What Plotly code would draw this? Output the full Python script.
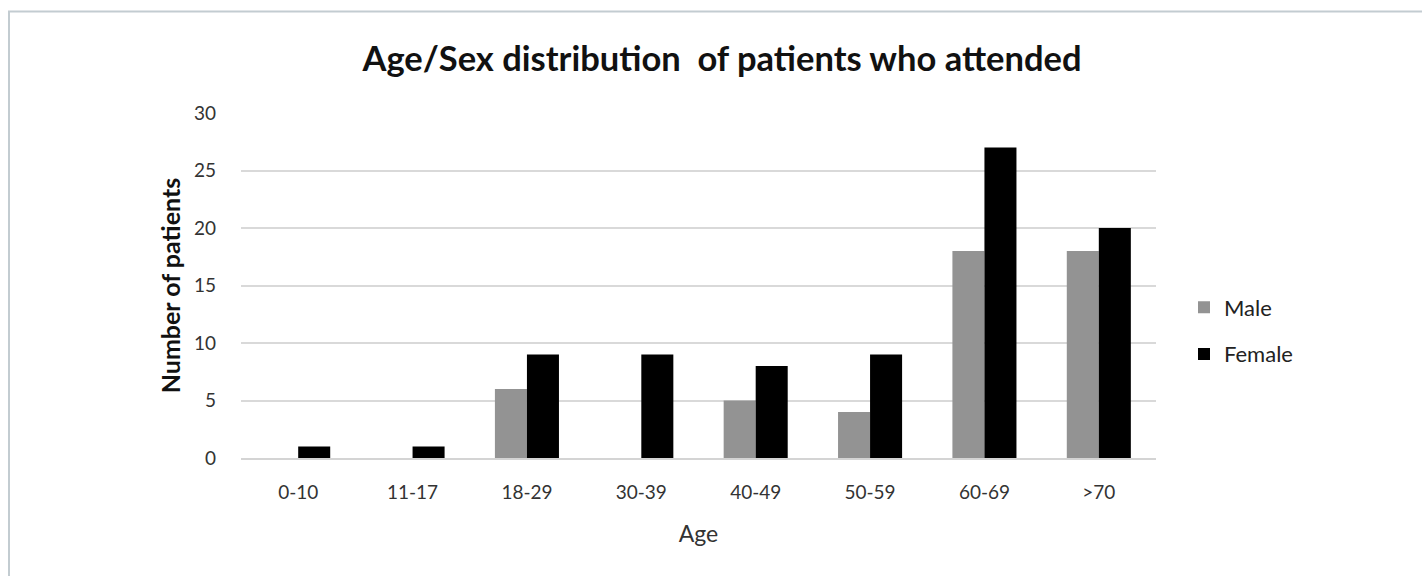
import plotly.graph_objects as go

age_groups = ["0-10", "11-17", "18-29", "30-39", "40-49", "50-59", "60-69", ">70"]
male = [0, 0, 6, 0, 5, 4, 18, 18]
female = [1, 1, 9, 9, 8, 9, 27, 20]
y_ticks = [0, 5, 10, 15, 20, 25, 30]

FONT = "Lato"
W, H = 1422, 576
ML, MR, MT, MB = 241, 266, 113, 118
PW, PH = W - ML - MR, H - MT - MB

fig = go.Figure()
fig.add_trace(go.Bar(name="Male", x=age_groups, y=male, marker=dict(color="#939393", line=dict(width=0)),
                     legendgroup="m"))
fig.add_trace(go.Bar(name="Female", x=age_groups, y=female, marker=dict(color="#000000", line=dict(width=0)),
                     legendgroup="f"))

def px_x(x):
    return (x - ML) / PW

def px_y(y):
    return (H - MB - y) / PH

fig.update_layout(
    width=W, height=H,
    margin=dict(l=ML, r=MR, t=MT, b=MB, autoexpand=False),
    paper_bgcolor="white", plot_bgcolor="white",
    barmode="group", bargap=0.44, bargroupgap=0,
    font=dict(family=FONT, color="#3a3a3a"),
    title=dict(text="<b>Age/Sex distribution  of patients who attended</b>",
               x=722 / W, xanchor="center", xref="container",
               y=1 - 59 / H, yanchor="middle", yref="container",
               font=dict(size=34.5, color="#111111", family=FONT)),
    legend=dict(x=px_x(1184), xanchor="left", y=px_y(331), yanchor="middle",
                font=dict(size=22, color="#222222"), tracegroupgap=15,
                bgcolor="rgba(0,0,0,0)", itemclick=False),
    showlegend=True,
    shapes=[dict(type="rect", xref="paper", yref="paper",
                 x0=px_x(9), x1=px_x(1440), y0=px_y(600), y1=px_y(11.5),
                 line=dict(color="#c3ccd1", width=2), fillcolor="rgba(0,0,0,0)", layer="below")],
)

fig.update_xaxes(
    tickfont=dict(size=19, color="#333333"), ticklabelstandoff=16,
    showline=True, linecolor="#d4d4d4", linewidth=1.5, ticks="",
    showgrid=False,
    title=dict(text="Age", font=dict(size=23, color="#333333"), standoff=24),
)
fig.update_yaxes(
    range=[0, 30], tickvals=y_ticks, tickfont=dict(size=19, color="#333333"),
    ticklabelstandoff=24,
    showgrid=True, gridcolor="#d9d9d9", gridwidth=1.5, zeroline=False, showline=False, ticks="",
    title=dict(text="<b>Number of patients</b>", font=dict(size=25, color="#111111"), standoff=6),
)

fig.write_html("out.html", config={"displayModeBar": False},
               post_script="document.body.style.margin='0';document.body.style.padding='0';")
